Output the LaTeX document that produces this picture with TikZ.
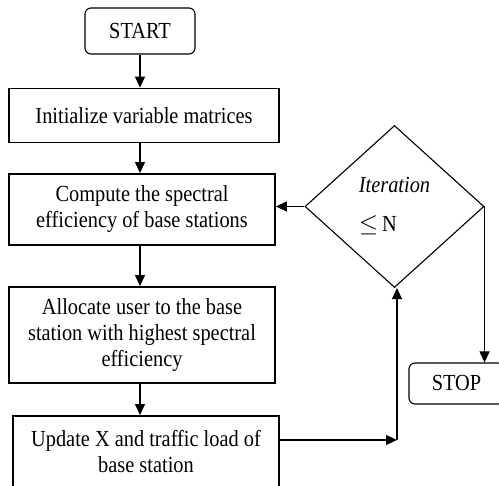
\documentclass[tikz,border=0pt]{standalone}
\usepackage{fontspec}
\setmainfont[FakeStretch=0.885]{Liberation Serif}
\usepackage{tikz}
\usetikzlibrary{shapes.geometric,arrows.meta}
\tikzset{>={Triangle[length=11pt,width=10pt]}}
\tikzset{%
    procbox/.style={%
        draw, line width=1.8pt, rectangle, inner sep=0pt, align=center,
        font=\fontsize{23}{26}\selectfont
    },
    termbox/.style={%
        draw, line width=1.1pt, rectangle, rounded corners=6pt, inner sep=0pt,
        font=\fontsize{23}{26}\selectfont
    },
    decbox/.style={%
        draw, line width=1.1pt, diamond, inner sep=0pt, align=left,
        minimum width=179pt, minimum height=162pt,
        font=\fontsize{23}{26}\selectfont
    },
    flowarrow/.style={->, line width=1.1pt}
}

\begin{document}
\begin{tikzpicture}[x=1pt,y=-1pt]
    \clip (0,0) rectangle (499,486);
    % terminals
    \node[termbox, minimum width=110pt, minimum height=46pt] (start) at (140,31) {START};
    \node[termbox, minimum width=95pt, minimum height=41pt] (stop) at (456.5,383.5) {STOP};
    % process steps
    \node[procbox, minimum width=270pt, minimum height=54pt] (init) at (144,115.5) {Initialize variable matrices};
    \node[procbox, minimum width=266pt, minimum height=71pt] (comp) at (142,209.5) {Compute the spectral\\efficiency of base stations};
    \node[procbox, minimum width=266pt, minimum height=96pt] (alloc) at (142,335) {Allocate user to the base\\station with highest spectral\\efficiency};
    \node[procbox, minimum width=266pt, minimum height=72pt] (upd) at (146,452) {Update X and traffic load of\\base station};
    % decision
    \node[decbox] (dec) at (394.5,206.5) {\textit{Iteration}\\[13pt]$\leq$\,N};
    \coordinate (turn) at (397,440);

    \draw[flowarrow] (start.south) -- (start.south |- init.north);
    \draw[flowarrow] (init.south -| start.south) -- (start.south |- comp.north);
    \draw[flowarrow] (comp.south -| start.south) -- (start.south |- alloc.north);
    \draw[flowarrow] (alloc.south -| start.south) -- (start.south |- upd.north);
    \draw[flowarrow] (dec.west) -- (dec.west -| comp.east);
    \draw[flowarrow] (dec.east) -- (dec.east |- stop.north);
    \draw[flowarrow] (upd.east |- turn) -- (turn);
    \draw[flowarrow] (turn) -- (turn |- dec.south);
\end{tikzpicture}
\end{document}
